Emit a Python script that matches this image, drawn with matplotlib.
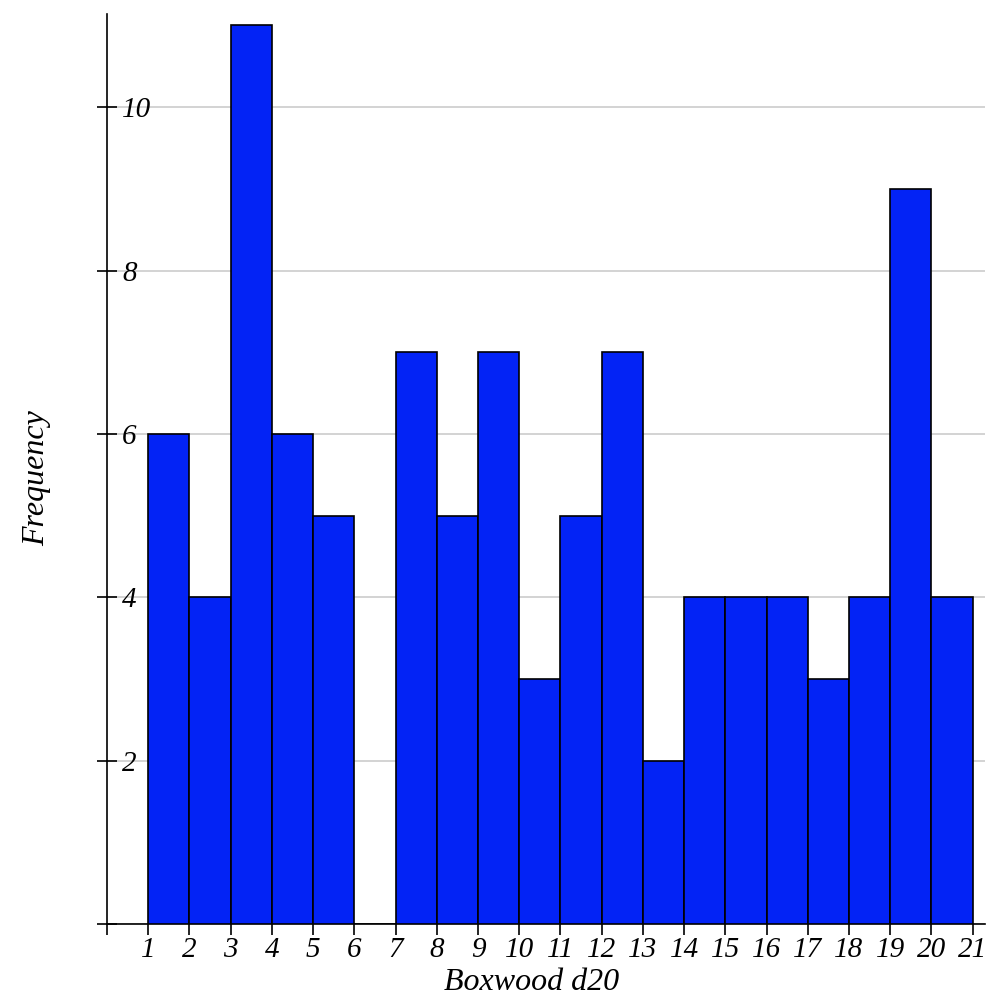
import matplotlib.pyplot as plt
import numpy as np

# histogram of boxwood d20 rolls, one bin per face
bin_edges = list(range(1, 22))
counts = [6, 4, 11, 6, 5, 0, 7, 5, 7, 3, 5, 7, 2, 4, 4, 4, 3, 4, 9, 4]
y_ticks = [2, 4, 6, 8, 10]
x_label = 'Boxwood d20'
y_label = 'Frequency'

plt.rcParams['font.family'] = ['Liberation Serif', 'DejaVu Serif']
plt.rcParams['font.style'] = 'italic'

fig = plt.figure(figsize=[10, 9.98], dpi=100)
ax = fig.add_axes([0.107, 0.074, 0.878, 0.912])

ax.hist(np.repeat(np.array(bin_edges[:-1]) + 0.5, counts), bins=bin_edges,
        color='#0323f5', edgecolor='black', linewidth=1.2, zorder=3)

ax.set_xlim(0, 21.3)
ax.set_ylim(0, 11.14)
ax.set_xticks(range(0, 22))
ax.set_xticklabels([''] + [str(i) for i in range(1, 22)], fontsize=21)
ax.set_yticks([0] + y_ticks)
ax.set_yticklabels([''] + [str(v) for v in y_ticks], fontsize=21)
ax.tick_params(axis='x', direction='out', length=8, width=1.2, pad=1)
ax.tick_params(axis='y', direction='inout', length=14, width=1.2, pad=-18)
for lab in ax.get_yticklabels():
    lab.set_horizontalalignment('left')

ax.yaxis.grid(True, color='#cccccc', linewidth=1.2, zorder=0)
ax.set_axisbelow(True)
for s in ['top', 'right']:
    ax.spines[s].set_visible(False)
ax.spines['left'].set_linewidth(1.2)
ax.spines['bottom'].set_linewidth(1.2)

ax.set_xlabel(x_label, fontsize=23)
ax.xaxis.set_label_coords(0.484, -0.048)
ax.set_ylabel(y_label, fontsize=23)
ax.yaxis.set_label_coords(-0.064, 0.49)

plt.savefig('out.png', dpi=100)
